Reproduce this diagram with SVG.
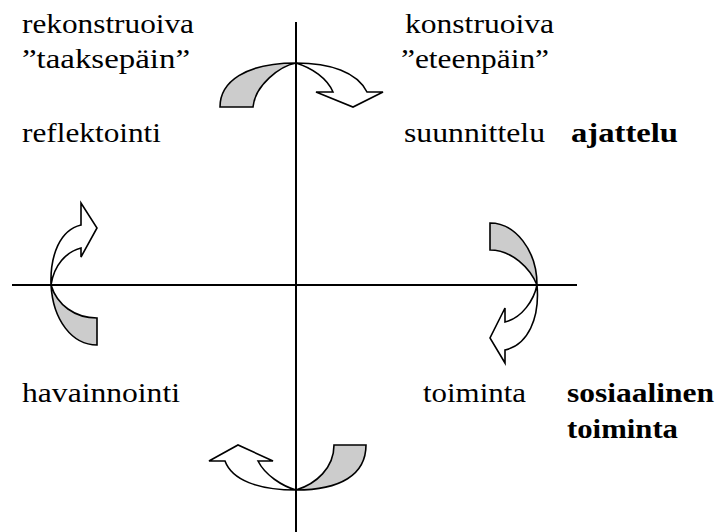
<svg xmlns="http://www.w3.org/2000/svg" width="718" height="532" viewBox="0 0 718 532">
<style>
  .t { font-family: 'Liberation Serif', 'Times New Roman', 'Liberation Sans', Arial, sans-serif; font-size: 28px; fill: #000; }
  .b { font-weight: bold; }
  .axis { stroke: #000; stroke-width: 2; fill: none; }
  .gray { fill: #cccccc; stroke: #000; stroke-width: 1.6; stroke-linejoin: miter; }
  .white { fill: #ffffff; stroke: #000; stroke-width: 1.6; stroke-linejoin: miter; }
</style>
<rect width="718" height="532" fill="#fff"/>
<g id="axes">
  <line class="axis" x1="296" y1="22" x2="296" y2="532"/>
  <line class="axis" x1="12" y1="285" x2="577" y2="285"/>
</g>
<g id="connectors">
  <g id="arrow-top">
    <path class="gray" d="M220,107 C220,82 245,63 296,63 C280,66 255,85 253,107 Z"/>
    <path class="white" d="M296,63 C330,63 357,72 367,92 L383,92 L353,107 L316,92 L333,92 C327,78 312,68 296,63 Z"/>
  </g>
  <g id="arrow-left">
    <path class="gray" d="M51,285 C53,320 72,345 97,345 L97,318 C75,318 57,305 51,285 Z"/>
    <path class="white" d="M51,285 C50,255 60,230 81,225 L81,203 L97,228 L81,257 L81,248 C66,252 54,265 51,285 Z"/>
  </g>
  <g id="arrow-right">
    <path class="gray" d="M490,223 C515,223 537,250 537,285 C530,268 512,250 490,250 Z"/>
    <path class="white" d="M537,285 C540,318 528,345 505,350 L505,363 L490,338 L505,308 L505,322 C522,318 534,300 537,285 Z"/>
  </g>
  <g id="arrow-bottom">
    <path class="gray" d="M296,490 C340,490 366,475 366,445 L334,445 C334,468 316,484 296,490 Z"/>
    <path class="white" d="M296,490 C258,490 232,480 225,461 L209,461 L238,445 L273,461 L258,461 C265,475 282,486 296,490 Z"/>
  </g>
</g>
<g id="node-rekonstruoiva">
  <text class="t" x="22" y="33" textLength="172" lengthAdjust="spacingAndGlyphs">rekonstruoiva</text>
  <text class="t" x="22" y="68" textLength="168" lengthAdjust="spacingAndGlyphs">”taaksepäin”</text>
</g>
<g id="node-konstruoiva">
  <text class="t" x="405" y="33" textLength="149" lengthAdjust="spacingAndGlyphs">konstruoiva</text>
  <text class="t" x="401" y="68" textLength="148" lengthAdjust="spacingAndGlyphs">”eteenpäin”</text>
</g>
<g id="node-reflektointi">
  <text class="t" x="22" y="142" textLength="139" lengthAdjust="spacingAndGlyphs">reflektointi</text>
</g>
<g id="node-suunnittelu">
  <text class="t" x="404" y="142" textLength="141" lengthAdjust="spacingAndGlyphs">suunnittelu</text>
</g>
<g id="node-ajattelu">
  <text class="t b" x="571" y="142" textLength="107" lengthAdjust="spacingAndGlyphs">ajattelu</text>
</g>
<g id="node-havainnointi">
  <text class="t" x="22" y="402" textLength="158" lengthAdjust="spacingAndGlyphs">havainnointi</text>
</g>
<g id="node-toiminta">
  <text class="t" x="423" y="402" textLength="103" lengthAdjust="spacingAndGlyphs">toiminta</text>
</g>
<g id="node-sosiaalinen-toiminta">
  <text class="t b" x="567" y="402" textLength="147" lengthAdjust="spacingAndGlyphs">sosiaalinen</text>
  <text class="t b" x="567" y="438" textLength="111" lengthAdjust="spacingAndGlyphs">toiminta</text>
</g>
</svg>
